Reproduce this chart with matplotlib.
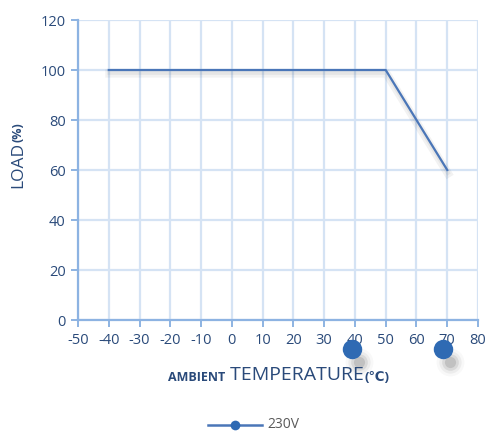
import matplotlib
matplotlib.use('Agg')
import matplotlib.pyplot as plt
import matplotlib.patheffects as pe
import numpy as np

matplotlib.rc('font', family=['Open Sans', 'DejaVu Sans'])
matplotlib.rcParams['axes.unicode_minus'] = False

temp = [-40, 50, 70]
load = [100, 100, 60]
stray_x = [39, 68.5]
stray_y = [-11.6, -11.6]
xticks = list(range(-50, 81, 10))
yticks = list(range(0, 121, 20))
series_name = '230V'

line_c = '#4a76b8'
dot_c = '#2f6ab3'
grid_c = '#d5e3f4'
spine_c = '#8db3e2'
text_c = '#2a4a7a'

fig = plt.figure(figsize=(4.88, 4.32), dpi=100)
ax = fig.add_axes([78/488, 1-320/432, 400/488, 300/432])
ax.set_xlim(-50, 80)
ax.set_ylim(0, 120)
ax.set_xticks(xticks)
ax.set_yticks(yticks)
ax.grid(True, color=grid_c, linewidth=1.6)
ax.set_axisbelow(True)
for s in ['top', 'right']:
	ax.spines[s].set_visible(False)
for s in ['left', 'bottom']:
	ax.spines[s].set_color(spine_c)
	ax.spines[s].set_linewidth(1.6)
ax.tick_params(colors=spine_c, labelcolor=text_c, labelsize=10.5, length=5, width=1.4, pad=4)

ax.plot(temp, load, color=line_c, linewidth=1.6, solid_joinstyle='miter',
	path_effects=[pe.SimpleLineShadow(offset=(0.5, -2.5), shadow_color='#000000', alpha=0.05, linewidth=6),
		pe.SimpleLineShadow(offset=(0.5, -2), shadow_color='#000000', alpha=0.05, linewidth=3),
		pe.Normal()])

# stray markers with soft shadows below the axis
for r, a in [(20, 0.04), (16, 0.07), (12, 0.12), (8, 0.18)]:
	ax.plot(np.array(stray_x) + 2.3, np.array(stray_y) - 5.2, 'o', color='#555555',
		markersize=r, alpha=a, markeredgewidth=0, clip_on=False)
ax.plot(stray_x, stray_y, 'o', color=dot_c, markersize=14, markeredgewidth=0, clip_on=False)

# x label in pieces
t1 = fig.text(168/488, 1-381/432, 'AMBIENT', fontsize=9, fontweight='bold', color=text_c, va='baseline')
t2 = ax.annotate(' TEMPERATURE', xycoords=t1, xy=(1, 0), va='bottom', fontsize=14, color=text_c)
ax.annotate('(\u2103)', xycoords=t2, xy=(1, 0), va='bottom', fontsize=9.5, fontweight='bold', color=text_c)

# y label in pieces
y1 = fig.text(18/488, 1-188/432, 'LOAD', fontsize=12.5, color=text_c, rotation=90,
	ha='center', va='bottom')
ax.annotate('(%)', xycoords=y1, xy=(0.5, 1), ha='center', va='bottom', rotation=90,
	fontsize=9, fontweight='bold', color=text_c)

# legend
fig.lines.append(plt.Line2D([208/488, 262/488], [1-425/432, 1-425/432], color=line_c,
	linewidth=1.8, transform=fig.transFigure))
fig.lines.append(plt.Line2D([235/488], [1-425/432], marker='o', color=dot_c, markersize=7,
	markeredgewidth=0, transform=fig.transFigure))
fig.text(267/488, 1-425/432, series_name, fontsize=10, color='#595959', va='center')

fig.savefig('out.png', dpi=100)
